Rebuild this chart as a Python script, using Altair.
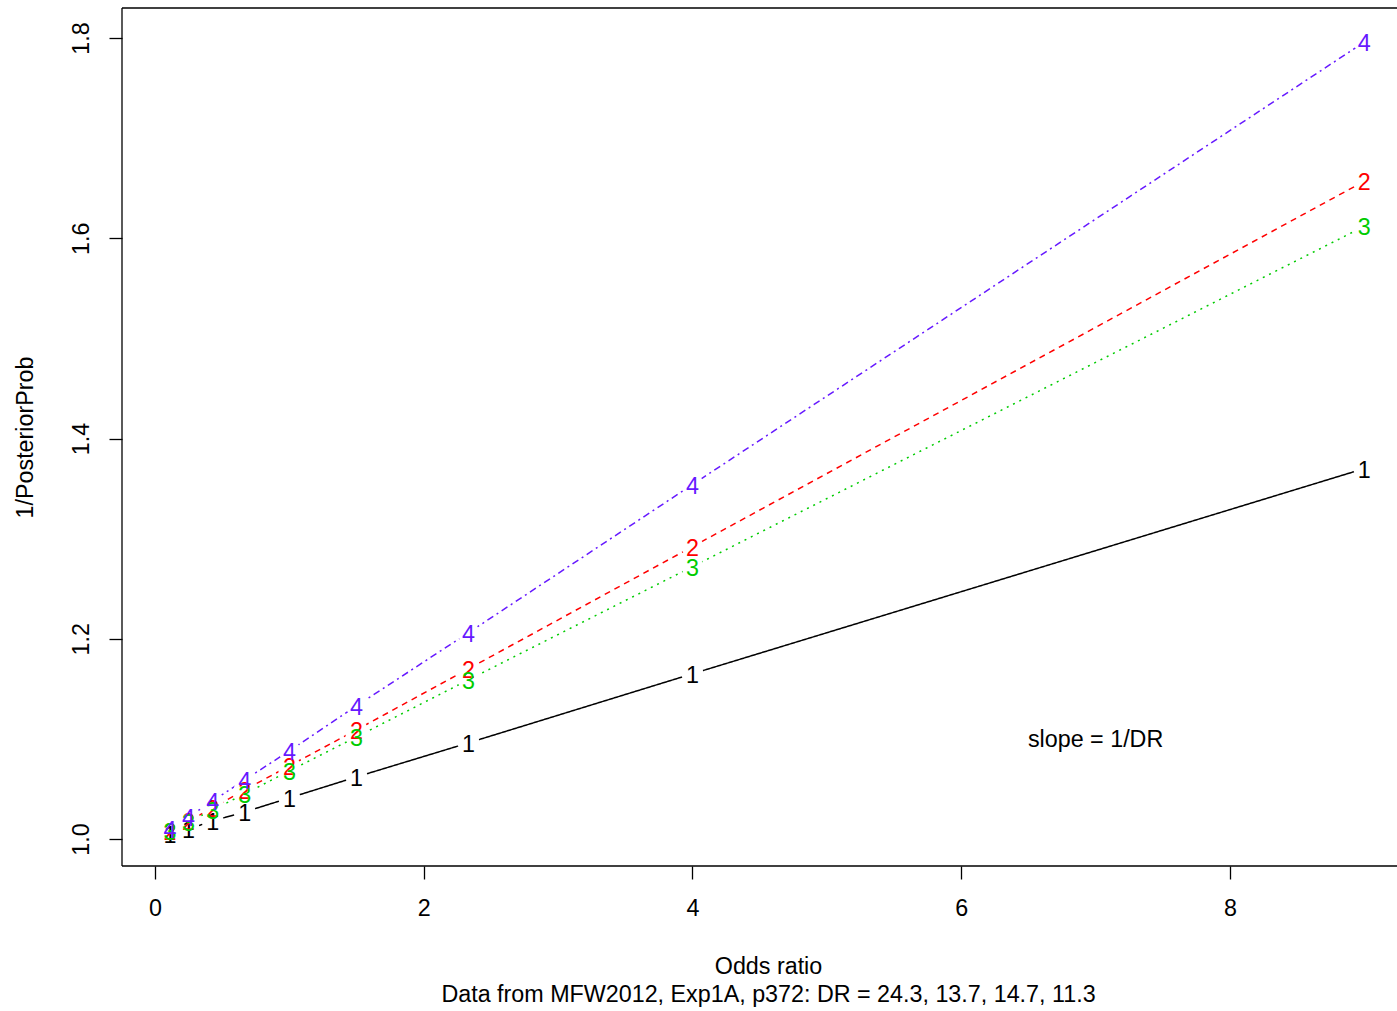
import altair as alt
import pandas as pd

odds = [0.111, 0.25, 0.429, 0.667, 1.0, 1.5, 2.333, 4.0, 9.0]
series_names = ["1", "2", "3", "4"]
y_s1 = [1.005, 1.010, 1.018, 1.027, 1.041, 1.062, 1.096, 1.165, 1.370]
y_s2 = [1.008, 1.018, 1.031, 1.049, 1.073, 1.109, 1.170, 1.292, 1.657]
y_s3 = [1.008, 1.017, 1.029, 1.045, 1.068, 1.102, 1.159, 1.272, 1.612]
y_s4 = [1.010, 1.022, 1.038, 1.059, 1.088, 1.133, 1.206, 1.354, 1.796]
x_ticks = [0, 2, 4, 6, 8]
y_ticks = [1.0, 1.2, 1.4, 1.6, 1.8]
x_title = ["Odds ratio", "Data from MFW2012, Exp1A, p372: DR = 24.3, 13.7, 14.7, 11.3"]
y_title = "1/PosteriorProb"
note = "slope = 1/DR"

rows = []
for name, ys in zip(series_names, [y_s1, y_s2, y_s3, y_s4]):
    for i, (xv, yv) in enumerate(zip(odds, ys)):
        rows.append({"series": name, "x": xv, "y": yv, "order": i})
df = pd.DataFrame(rows)

FONT = "Liberation Sans"
FS = 23.3
W, H = 1275, 858
colors = ["#000000", "#FF0000", "#00CC00", "#6619FF"]
dashes = [[1, 0], [6, 5], [2, 5], [2, 4, 7, 4]]

x_enc = alt.X(
    "x:Q",
    scale=alt.Scale(domain=[-0.2456, 9.243], nice=False, zero=False),
    axis=alt.Axis(
        values=x_ticks, format="d", domain=False, grid=False,
        tickSize=13, tickColor="black", tickWidth=1.3,
        labelFont=FONT, labelFontSize=FS, labelColor="black",
        labelPadding=18, labelBaseline="top", labelAlign="center",
        title=x_title, titleFont=FONT, titleFontSize=FS, titleFontWeight="normal",
        titleColor="black", titleX=646, titleY=107, titleAlign="center",
        titleBaseline="alphabetic", titleLineHeight=28, titleAnchor="middle",
    ),
)
y_enc = alt.Y(
    "y:Q",
    scale=alt.Scale(domain=[0.973, 1.830], nice=False, zero=False),
    axis=alt.Axis(
        values=y_ticks, format=".1f", domain=False, grid=False,
        tickSize=13, tickColor="black", tickWidth=1.3,
        labelFont=FONT, labelFontSize=FS, labelColor="black",
        labelAngle=270, labelAlign="center", labelBaseline="bottom",
        labelPadding=16,
        title=y_title, titleFont=FONT, titleFontSize=FS, titleFontWeight="normal",
        titleColor="black", titleAngle=270, titleX=-97, titleY=429,
        titleAlign="center", titleBaseline="middle",
    ),
)
color_enc = alt.Color("series:N", scale=alt.Scale(domain=series_names, range=colors), legend=None)

base = alt.Chart(df)

lines = base.mark_line(strokeWidth=1.5).encode(
    x=x_enc, y=y_enc, color=color_enc, order="order:Q",
    strokeDash=alt.StrokeDash("series:N", scale=alt.Scale(domain=series_names, range=dashes), legend=None),
)

gaps = base.mark_point(shape="circle", filled=True, color="white", opacity=1, size=480).encode(
    x=x_enc, y=y_enc
)

labels = base.mark_text(font=FONT, fontSize=FS, align="center", baseline="middle", dy=2).encode(
    x=x_enc, y=y_enc, text="series:N", color=color_enc
)

annot = alt.Chart(pd.DataFrame({"t": [note]})).mark_text(
    font=FONT, fontSize=FS, align="center", baseline="middle", color="black", dy=1
).encode(x=alt.datum(7.0), y=alt.datum(1.1), text="t:N")

border_top = alt.Chart(pd.DataFrame({"a": [0]})).mark_rule(color="black", strokeWidth=1.3).encode(
    x=alt.value(0), x2=alt.value(W + 5), y=alt.value(0)
)
border_bottom = alt.Chart(pd.DataFrame({"a": [0]})).mark_rule(color="black", strokeWidth=1.3).encode(
    x=alt.value(0), x2=alt.value(W + 5), y=alt.value(H)
)
border_left = alt.Chart(pd.DataFrame({"a": [0]})).mark_rule(color="black", strokeWidth=1.3).encode(
    x=alt.value(0), y=alt.value(0), y2=alt.value(H)
)

chart = alt.layer(lines, gaps, labels, annot, border_top, border_bottom, border_left).properties(
    width=W, height=H,
    padding={"left": 122, "top": 8, "right": 0, "bottom": 145},
    autosize=alt.AutoSizeParams(type="none"),
    background="white",
).configure_view(stroke=None)

chart.save("out.html", embed_options={"renderer": "svg", "actions": False})
